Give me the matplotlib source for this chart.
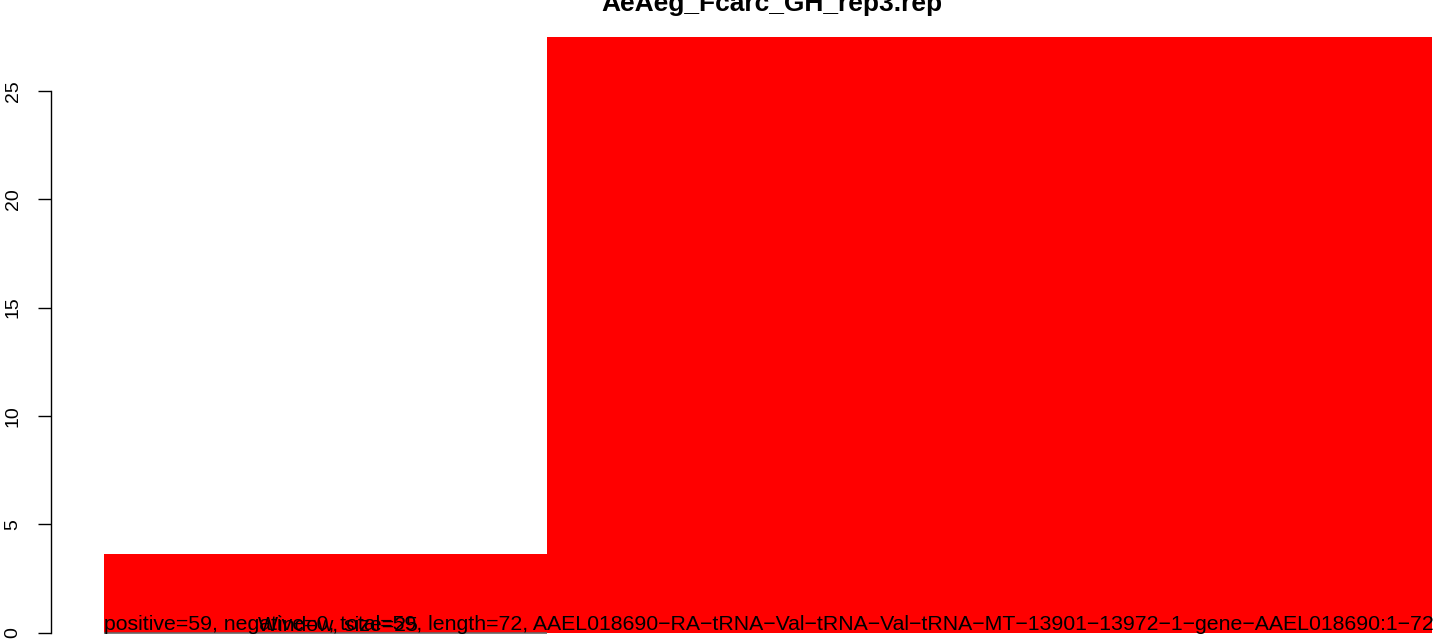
import matplotlib; matplotlib.use("Agg")
import matplotlib.pyplot as plt
import numpy as np

plt.rcParams.update({"font.family": ["Liberation Sans", "DejaVu Sans"]})

# data
title = "AeAeg_Fcarc_GH_rep3.rep"
win_widths = [24, 48]          # window widths (bases)
values = [3.63, 27.48]         # bar heights
yticks = [0, 5, 10, 15, 20, 25]
info = ("positive=59, negative=0, total=59, length=72, "
        "AAEL018690\u2212RA\u2212tRNA\u2212Val\u2212tRNA\u2212Val\u2212tRNA\u2212MT\u221213901\u221213972\u22121\u2212gene\u2212AAEL018690:1\u221272")
win_label = "Window, size=25"
NARROW = ["Liberation Sans Narrow", "DejaVu Sans Condensed", "Liberation Sans", "DejaVu Sans"]

W, H = 1444, 639
PT = 72 / 100  # points per pixel at dpi 100
fig = plt.figure(figsize=(W/100, H/100), dpi=100)
# plot region in pixels: x 104..1432, y 37..632.7 (from top)
ax = fig.add_axes([104/W, (H-632.7)/H, (1432-104)/W, (632.7-37)/H])
lefts = np.concatenate([[0], np.cumsum(win_widths)[:-1]])
ax.bar(lefts, values, width=win_widths, align="edge", color="red", linewidth=0)
ax.set_xlim(0, sum(win_widths)); ax.set_ylim(0, max(values))
ax.hlines(0, lefts[0], lefts[0]+win_widths[0], color="#666666", lw=1.2, clip_on=False, zorder=1)

for s in ["top", "right", "bottom"]: ax.spines[s].set_visible(False)
ax.spines["left"].set_position(("outward", (104-50.7)*PT))
ax.spines["left"].set_bounds(0, 25); ax.spines["left"].set_linewidth(1.0)
ax.set_xticks([])
ax.set_yticks(yticks); ax.set_yticklabels([str(t) for t in yticks], rotation=90, va="center")
ax.tick_params(axis="y", length=13*PT, width=1.0, pad=16*PT, labelsize=14)

t1 = ax.text(0, 0.12, info, ha="left", va="baseline", fontsize=17, family=NARROW, zorder=3)
fig.canvas.draw()
r = fig.canvas.get_renderer()
w = t1.get_window_extent(r).width
t1.set_fontsize(17 * (1328 / w))
ax.text(lefts[0] + win_widths[0]/2 + 0.7, 0.12, win_label, ha="center", va="baseline",
        fontsize=t1.get_fontsize(), family=NARROW, zorder=3)

fig.text(772/W, (H-11)/H, title, ha="center", va="baseline", fontsize=19, fontweight="bold")
fig.savefig("out.png", dpi=100, facecolor="white")
